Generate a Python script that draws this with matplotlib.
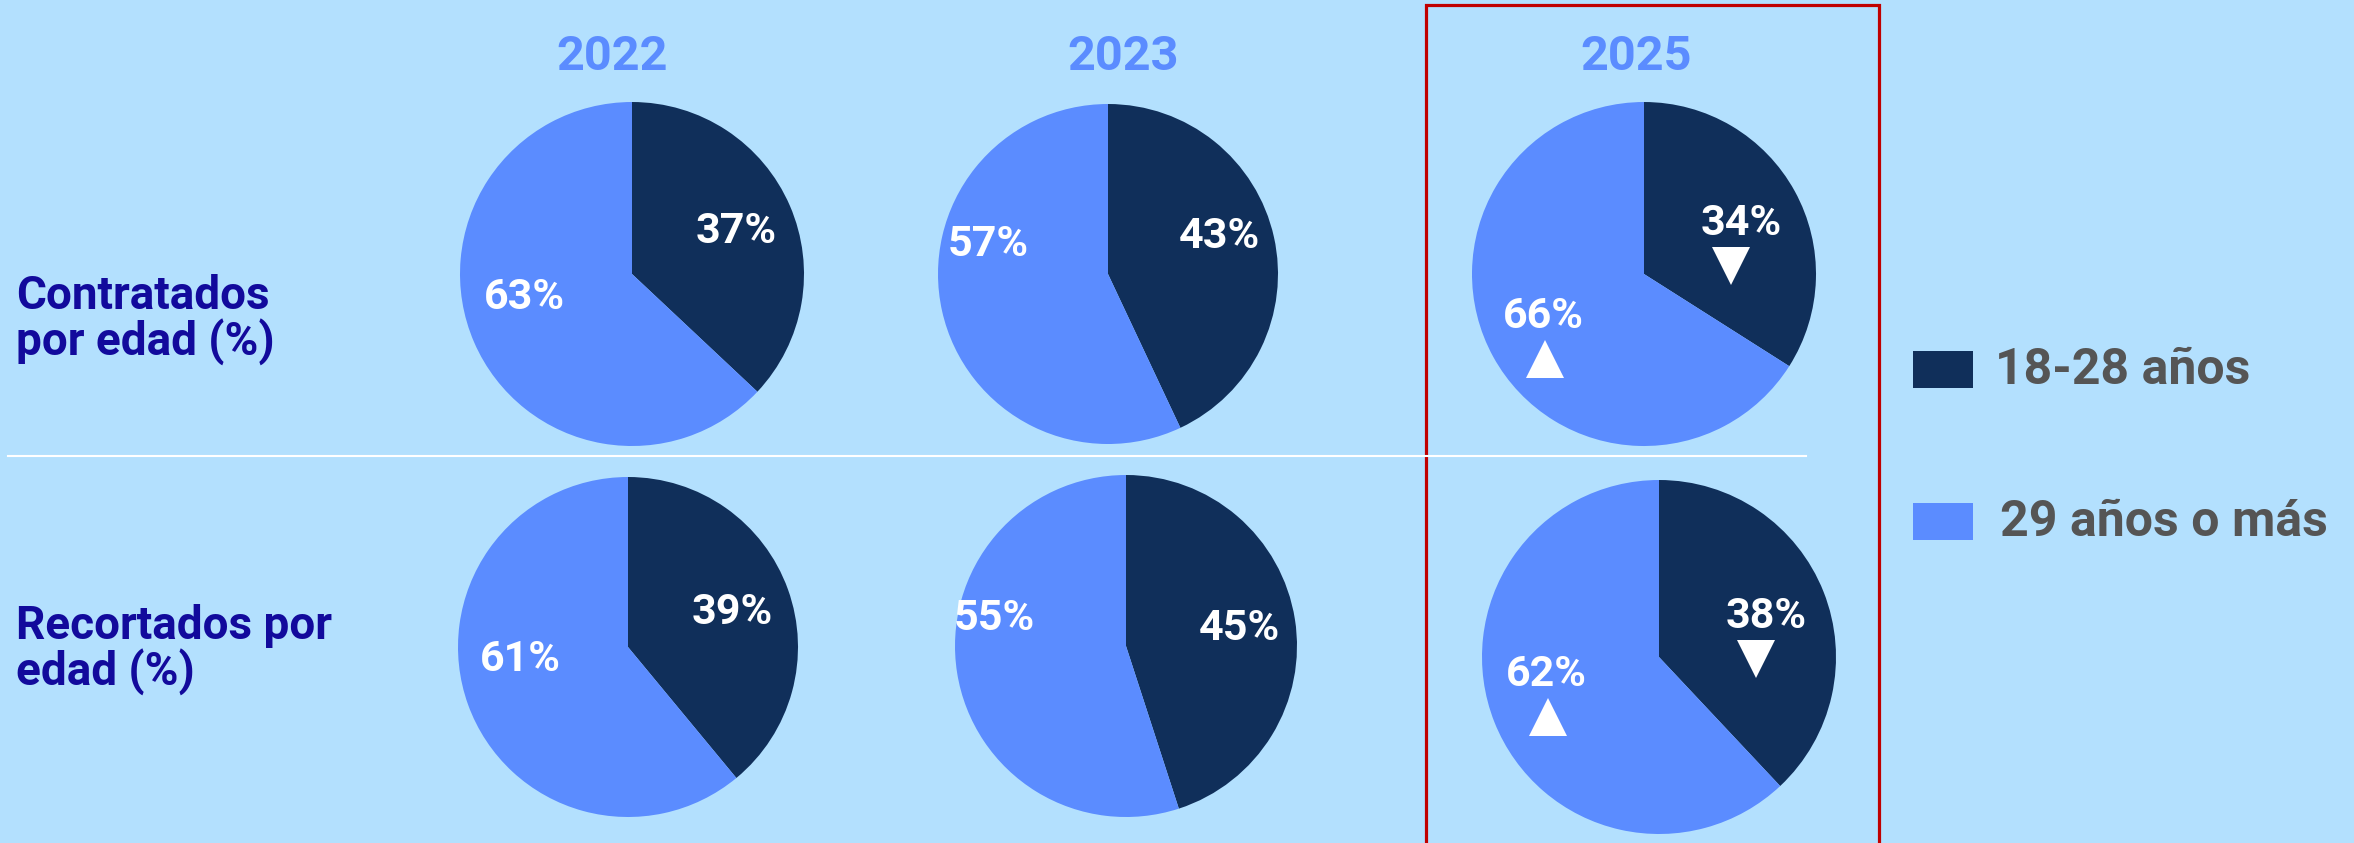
import matplotlib.pyplot as plt
from matplotlib.patches import Rectangle

# datos: % por grupo de edad
years = ['2022', '2023', '2025']
hired_young = [37, 43, 34]
hired_older = [63, 57, 66]
cut_young = [39, 45, 38]
cut_older = [61, 55, 62]
row_titles = ['Contratados\npor edad (%)', 'Recortados por\nedad (%)']
legend_labels = ['18-28 años', '29 años o más']

W, H = 2354, 844
BG = '#B3E0FE'
DARK = '#102F5A'
LIGHT = '#5B8CFF'
TITLE_C = '#120A9C'
FONT = 'Roboto'

def Y(py):
    # pixel (desde arriba) -> coordenada de datos
    return H - py

# layout en pixeles
centers = [[(632, 275), (1108, 275), (1644, 275)],
           [(628, 648), (1126, 647), (1659, 658)]]
radii = [[172, 170, 172], [170, 171, 177]]
young_pos = [[(736, 232), (1219, 237), (1741, 224)],
             [(732, 613), (1239, 629), (1766, 617)]]
older_pos = [[(524, 298), (988, 245), (1543, 317)],
             [(520, 660), (994, 619), (1546, 675)]]
year_x = [612, 1123, 1636]

fig = plt.figure(figsize=(W / 100, 8.4399), dpi=100, facecolor=BG)
ax = fig.add_axes([0, 0, 1, 1])
ax.set_facecolor(BG)

rows = [(hired_young, hired_older), (cut_young, cut_older)]
for r, (young, older) in enumerate(rows):
    for c in range(len(years)):
        cx, cy = centers[r][c]
        ax.pie([young[c], older[c]], colors=[DARK, LIGHT], startangle=90,
               counterclock=False, center=(cx, Y(cy)), radius=radii[r][c],
               wedgeprops=dict(linewidth=0), frame=True)
        for val, (px, py) in ((young[c], young_pos[r][c]), (older[c], older_pos[r][c])):
            ax.text(px, Y(py), f'{val}%', color='white', fontsize=31,
                    fontweight='bold', family=FONT, ha='center', va='center')
        # flecha de variacion frente al año anterior
        if c == len(years) - 1:
            for vals, (px, py) in ((young, young_pos[r][c]), (older, older_pos[r][c])):
                down = vals[c] < vals[c - 1]
                mk = 'v' if down else '^'
                dx = -10 if down else 2
                ax.plot(px + dx, Y(py + 43), marker=mk, color='white',
                        markersize=27, markeredgewidth=0)

for x, yr in zip(year_x, years):
    ax.text(x, Y(57), yr, color=LIGHT, fontsize=35, fontweight='bold',
            family=FONT, ha='center', va='center')

ax.text(16, Y(320), row_titles[0], color=TITLE_C, fontsize=33, fontweight='bold',
        family=FONT, ha='left', va='center', linespacing=1.0)
ax.text(16, Y(650), row_titles[1], color=TITLE_C, fontsize=33, fontweight='bold',
        family=FONT, ha='left', va='center', linespacing=1.0)

# separador entre filas
ax.plot([8, 1806], [Y(457), Y(457)], color='white', lw=1.5)

# recuadro 2025
ax.add_patch(Rectangle((1426, Y(850)), 453, 844, fill=False,
                       edgecolor='#C00000', lw=2.3))

# leyenda
for (top, tx), col, lab in zip([(352, 1995), (504, 2000)], [DARK, LIGHT], legend_labels):
    ax.add_patch(Rectangle((1913, Y(top + 37)), 60, 37, color=col, lw=0))
    ax.text(tx, Y(top + 19), lab, color='#555555', fontsize=36, fontweight='bold',
            family=FONT, ha='left', va='center')

ax.set_aspect('auto')
ax.set_xlim(0, W)
ax.set_ylim(0, H)
ax.axis('off')

fig.savefig('out.png', dpi=100, facecolor=BG)
